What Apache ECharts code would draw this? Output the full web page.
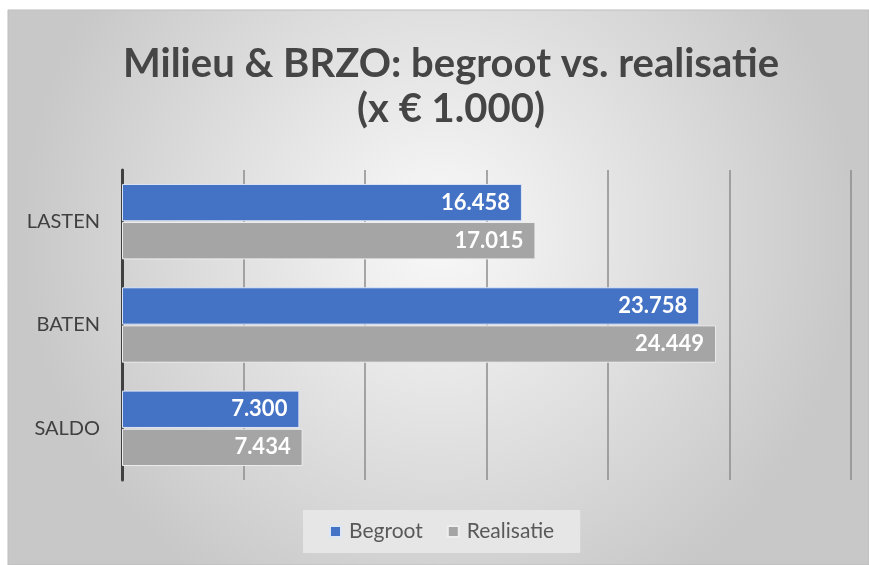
<!DOCTYPE html>
<html lang="nl">
<head>
    <meta charset="UTF-8">
    <title>Milieu & BRZO</title>
    <script src="https://cdn.jsdelivr.net/npm/echarts@6/dist/echarts.min.js"></script>
    <style>
        html, body { margin: 0; padding: 0; background: #fff; }
    </style>
</head>
<body>
    <div id="main" style="width: 869px;height:565px;"></div>
    <script type="text/javascript">
        // data (x € 1.000)
        const categories = ['SALDO', 'BATEN', 'LASTEN'];
        const begroot = [7300, 23758, 16458];
        const realisatie = [7434, 24449, 17015];

        const fontFam = 'Lato, "Open Sans", sans-serif';

        function fmt(v) {
            return String(v).replace(/\B(?=(\d{3})+(?!\d))/g, '.');
        }

        let myChart = echarts.init(document.getElementById('main'));

        let options = {
            animation: false,
            graphic: [{
                type: 'rect',
                z: -10,
                shape: { x: 8, y: 10, width: 861, height: 555 },
                style: {
                    fill: {
                        type: 'radial', x: 0.5, y: 0.4, r: 0.75,
                        colorStops: [
                            { offset: 0, color: '#f9f9f9' },
                            { offset: 1, color: '#c8c8c8' }
                        ]
                    },
                    stroke: '#bdbdbd',
                    lineWidth: 1
                }
            }],
            title: {
                text: 'Milieu & BRZO: begroot vs. realisatie\n(x € 1.000)',
                left: 446,
                top: 37,
                textAlign: 'center',
                textStyle: {
                    fontFamily: fontFam,
                    fontWeight: 'bold',
                    fontSize: 40,
                    lineHeight: 45,
                    color: '#454545'
                }
            },
            legend: {
                bottom: 12,
                left: 303,
                itemWidth: 11,
                itemHeight: 11,
                itemGap: 24,
                padding: [11, 26, 11, 26],
                backgroundColor: '#e6e6e6',
                icon: 'rect',
                textStyle: { fontFamily: fontFam, fontSize: 21, color: '#595959', padding: [0, 0, 0, 3] },
                data: ['Begroot', 'Realisatie']
            },
            grid: { left: 122, right: 18, top: 170, bottom: 85 },
            xAxis: {
                type: 'value',
                min: 0,
                max: 30000,
                interval: 5000,
                axisLabel: { show: false },
                axisLine: { show: false },
                axisTick: { show: false },
                splitLine: { lineStyle: { color: '#8c8c8c', width: 1.5 } }
            },
            yAxis: {
                type: 'category',
                data: categories,
                axisTick: { show: false },
                axisLine: { lineStyle: { color: '#404040', width: 3 } },
                axisLabel: { fontFamily: fontFam, fontSize: 20, color: '#404040', margin: 22 }
            },
            series: [{
                name: 'Begroot',
                type: 'bar',
                data: begroot,
                barGap: '2%',
                barCategoryGap: '27%',
                itemStyle: { color: '#4472c4', borderColor: '#dde6f4', borderWidth: 1 },
                label: {
                    show: true, position: 'insideRight', distance: 12,
                    formatter: p => fmt(p.value),
                    color: '#fff', fontWeight: 'bold', fontSize: 22, fontFamily: fontFam
                }
            }, {
                name: 'Realisatie',
                type: 'bar',
                data: realisatie,
                itemStyle: { color: '#a5a5a5', borderColor: '#eeeeee', borderWidth: 1 },
                label: {
                    show: true, position: 'insideRight', distance: 12,
                    formatter: p => fmt(p.value),
                    color: '#fff', fontWeight: 'bold', fontSize: 22, fontFamily: fontFam
                }
            }]
        };

        myChart.setOption(options);
    </script>
</body>
</html>
